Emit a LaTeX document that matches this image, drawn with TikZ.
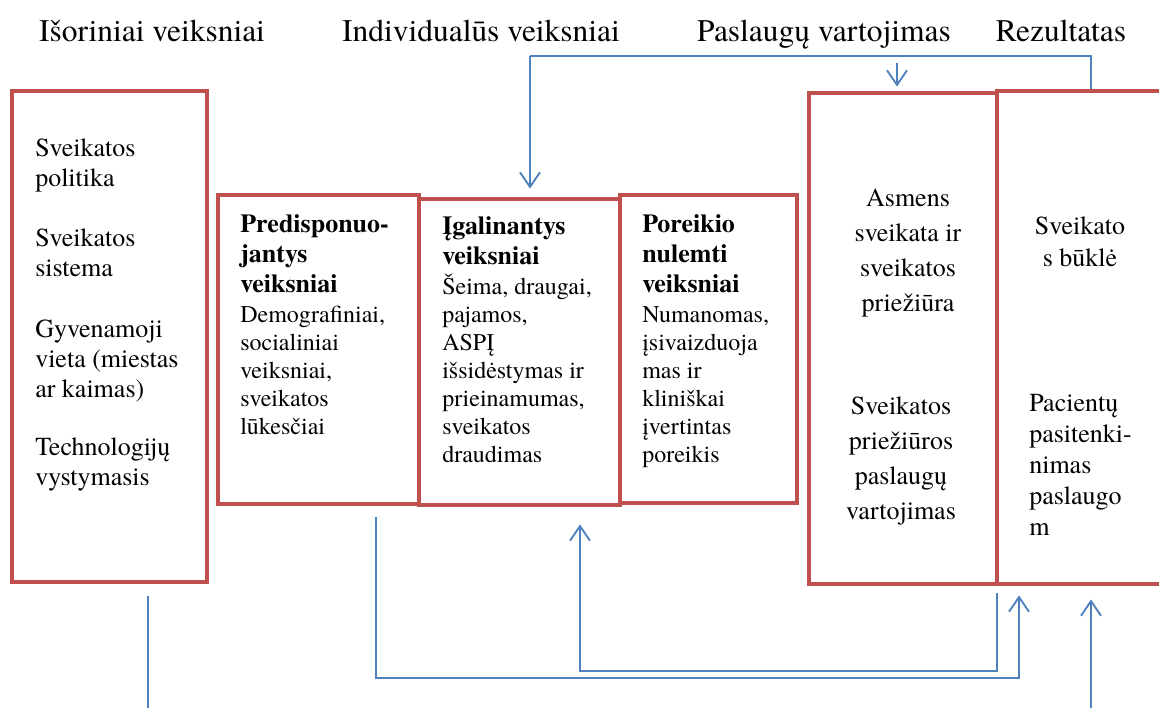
\documentclass[tikz,border=0pt]{standalone}
\usepackage{fontspec}
\setmainfont{TeX Gyre Termes}
\usetikzlibrary{arrows.meta,fit}
\definecolor{boxred}{HTML}{C0504D}
\definecolor{lineblue}{HTML}{4F81BD}
\newcommand{\boldhead}[1]{{\fontsize{19.5}{21}\selectfont\bfseries #1}}
\begin{document}
\begin{tikzpicture}[x=0.75pt,y=-0.75pt,
  box/.style={draw=boxred,line width=3.6pt,inner sep=0pt},
  conn/.style={draw=lineblue,line width=1.4pt},
  arr/.style={-{Straight Barb[length=11pt,width=15pt]}},
  hdr/.style={font=\fontsize{23.6}{28}\selectfont,inner sep=0pt,anchor=base},
  big/.style={font=\fontsize{19.5}{22.5}\selectfont,inner sep=0pt},
  small/.style={font=\fontsize{18}{21}\selectfont,inner sep=0pt,align=left,anchor=north west},
]
\useasboundingbox (0,0) rectangle (1159,707);

% headers
\node[hdr] (h1) at (152,41) {Išoriniai veiksniai};
\node[hdr] (h2) at (481,41) {Individualūs veiksniai};
\node[hdr] (h3) at (824,41) {Paslaugų vartojimas};
\node[hdr] (h4) at (1061,41) {Rezultatas};

% boxes
\node[box,fit={(12,91) (207,582)}] (b1) {};
\node[box,fit={(218,195) (419,504)}] (b2) {};
\node[box,fit={(419,199) (620,505)}] (b3) {};
\node[box,fit={(620,195) (797,503)}] (b4) {};
\node[box,fit={(809,93) (997,584)}] (b5) {};
\node[box,fit={(997,91) (1200,584)}] (b6) {};

% texts
\node[big,align=left,anchor=north west] (t1) at (35,138)
  {Sveikatos\\politika\\[23pt]Sveikatos\\sistema\\[23pt]Gyvenamoji\\vieta (miestas\\ar kaimas)\\[21pt]Technologijų\\vystymasis};

\node[small] (t2) at (240,214)
  {\boldhead{Predisponuo-}\\[1.5pt]\boldhead{jantys}\\[1.5pt]\boldhead{veiksniai}\\[1.5pt]Demografiniai,\\socialiniai\\veiksniai,\\sveikatos\\lūkesčiai};

\node[small] (t3) at (442,216)
  {\boldhead{Įgalinantys}\\[1.5pt]\boldhead{veiksniai}\\[1.5pt]Šeima, draugai,\\pajamos,\\ASPĮ\\išsidėstymas ir\\prieinamumas,\\sveikatos\\draudimas};

\node[small] (t4) at (642,214)
  {\boldhead{Poreikio}\\[1.5pt]\boldhead{nulemti}\\[1.5pt]\boldhead{veiksniai}\\[1.5pt]Numanomas,\\įsivaizduoja\\mas ir\\kliniškai\\įvertintas\\poreikis};

\node[big,align=center,anchor=north,font=\fontsize{19.5}{26.25}\selectfont] (t5a) at (908,189)
  {Asmens\\sveikata ir\\sveikatos\\priežiūra};
\node[big,align=center,anchor=north,font=\fontsize{19.5}{26.25}\selectfont] (t5b) at (901,396)
  {Sveikatos\\priežiūros\\paslaugų\\vartojimas};

\node[big,align=center,anchor=north,font=\fontsize{19.5}{24}\selectfont] (t6a) at (1080,216)
  {Sveikato\\s būklė};
\node[big,align=left,anchor=north west,font=\fontsize{19.5}{23.25}\selectfont] (t6b) at (1029,394)
  {Pacientų\\pasitenki-\\nimas\\paslaugo\\m};

% connectors
\coordinate (tl) at (530,56);
\coordinate (tr) at (1091,56);
\draw[conn] (tr |- b6.north) -- (tr) -- (tl);
\draw[conn,arr,shorten >=6pt] (tl) -- (tl |- b3.north);
\coordinate (ma) at (897,63);
\draw[conn,arr,shorten >=3pt] (ma) -- (ma |- b5.north);

\coordinate (p1) at (376,517);
\coordinate (c1) at (1019,678);
\draw[conn,arr,shorten >=6.75pt] (p1) |- (c1) -- (c1 |- b6.south);
\coordinate (p2) at (997,593);
\coordinate (c2) at (580,671);
\draw[conn,arr,shorten >=12.75pt] (p2) |- (c2) -- (c2 |- b3.south);
\coordinate (p3) at (1091,712);
\draw[conn,arr,shorten >=9.75pt] (p3) -- (p3 |- b6.south);
\coordinate (p4) at (148,596);
\coordinate (p5) at (148,712);
\draw[conn] (p4) -- (p5);
\end{tikzpicture}
\end{document}
